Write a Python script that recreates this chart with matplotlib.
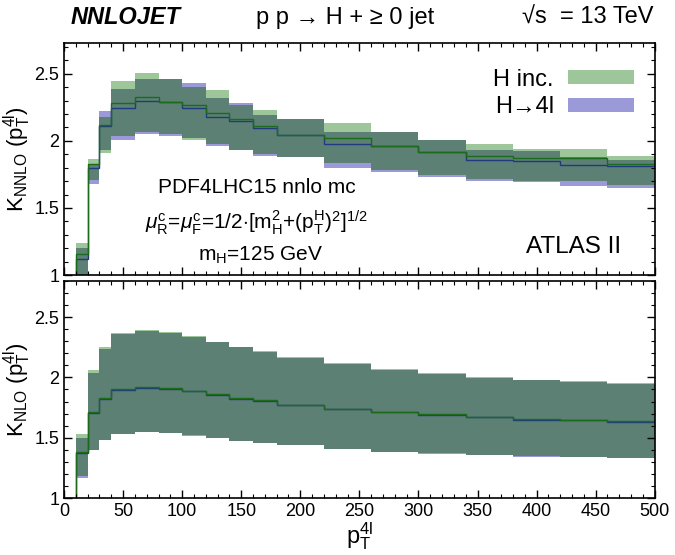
import numpy as np
import matplotlib
matplotlib.use("Agg")
import matplotlib.pyplot as plt
from matplotlib.patches import Patch

plt.rcParams['font.family'] = ['Liberation Sans', 'DejaVu Sans']
plt.rcParams['mathtext.fontset'] = 'custom'
plt.rcParams['mathtext.rm'] = 'Liberation Sans'
plt.rcParams['mathtext.it'] = 'Liberation Sans:italic'
plt.rcParams['mathtext.bf'] = 'Liberation Sans:bold'

# bin edges in pT(4l)
edges = [0, 10, 20, 30, 40, 60, 80, 100, 120, 140, 160, 180, 220, 260, 300, 340, 380, 420, 460, 500]

# NNLO K-factor, H inclusive
nnlo_inc_c = [0.60, 1.16, 1.83, 2.12, 2.285, 2.33, 2.29, 2.27, 2.205, 2.16, 2.11, 2.045, 2.02, 1.965, 1.92, 1.89, 1.87, 1.87, 1.83]
nnlo_inc_up = [0.70, 1.24, 1.865, 2.18, 2.45, 2.51, 2.46, 2.40, 2.38, 2.27, 2.23, 2.16, 2.13, 2.065, 2.01, 1.975, 1.94, 1.94, 1.89]
nnlo_inc_lo = [0.50, 0.95, 1.71, 1.91, 2.04, 2.07, 2.05, 2.01, 1.98, 1.93, 1.90, 1.88, 1.835, 1.78, 1.746, 1.716, 1.70, 1.70, 1.67]
# NNLO K-factor, H -> 4l
nnlo_4l_c = [0.58, 1.12, 1.80, 2.11, 2.245, 2.30, 2.29, 2.245, 2.18, 2.145, 2.095, 2.045, 1.98, 1.965, 1.92, 1.86, 1.85, 1.82, 1.81]
nnlo_4l_up = [0.68, 1.20, 1.83, 2.22, 2.385, 2.46, 2.46, 2.435, 2.32, 2.285, 2.19, 2.16, 2.07, 2.065, 2.01, 1.93, 1.925, 1.88, 1.86]
nnlo_4l_lo = [0.48, 0.92, 1.68, 1.93, 2.01, 2.05, 2.04, 2.02, 1.96, 1.93, 1.89, 1.88, 1.80, 1.77, 1.73, 1.70, 1.69, 1.665, 1.65]

# NLO K-factor, H inclusive
nlo_inc_c = [0.60, 1.38, 1.71, 1.83, 1.90, 1.92, 1.91, 1.89, 1.86, 1.83, 1.81, 1.775, 1.74, 1.715, 1.695, 1.675, 1.655, 1.65, 1.635]
nlo_inc_up = [0.70, 1.53, 2.06, 2.25, 2.37, 2.39, 2.375, 2.34, 2.295, 2.255, 2.22, 2.17, 2.12, 2.07, 2.035, 2.00, 1.98, 1.97, 1.95]
nlo_inc_lo = [0.50, 1.18, 1.40, 1.48, 1.53, 1.55, 1.54, 1.52, 1.50, 1.475, 1.455, 1.44, 1.41, 1.385, 1.37, 1.355, 1.345, 1.34, 1.33]
# NLO K-factor, H -> 4l
nlo_4l_c = [0.58, 1.37, 1.705, 1.825, 1.895, 1.915, 1.905, 1.885, 1.855, 1.825, 1.805, 1.77, 1.735, 1.71, 1.69, 1.67, 1.65, 1.645, 1.63]
nlo_4l_up = [0.68, 1.50, 2.04, 2.235, 2.36, 2.385, 2.37, 2.335, 2.29, 2.25, 2.215, 2.165, 2.115, 2.065, 2.03, 1.995, 1.975, 1.965, 1.945]
nlo_4l_lo = [0.48, 1.17, 1.395, 1.478, 1.528, 1.548, 1.538, 1.518, 1.498, 1.473, 1.453, 1.438, 1.408, 1.383, 1.368, 1.353, 1.343, 1.338, 1.328]

GREEN = '#9dc79b'
BLUE = '#9b99d8'
DARK = '#5c8073'
GLINE = '#1b6b1b'
BLINE = '#1f3a80'


def draw_panel(ax, g_c, g_up, g_lo, b_c, b_up, b_lo):
    g_up, g_lo, b_up, b_lo = map(np.array, (g_up, g_lo, b_up, b_lo))
    ax.stairs(g_up, edges, baseline=g_lo, fill=True, color=GREEN, lw=0)
    ax.stairs(b_up, edges, baseline=b_lo, fill=True, color=BLUE, lw=0)
    ax.stairs(np.minimum(g_up, b_up), edges, baseline=np.maximum(g_lo, b_lo),
              fill=True, color=DARK, lw=0)
    ax.stairs(b_c, edges, baseline=None, color=BLINE, lw=1.0)
    ax.stairs(g_c, edges, baseline=None, color=GLINE, lw=1.0)
    ax.set_xlim(0, 500)
    ax.set_xticks(range(0, 501, 50))
    ax.set_xticks(range(0, 501, 10), minor=True)
    ax.set_yticks([1, 1.5, 2, 2.5])
    ax.set_yticklabels(['1', '1.5', '2', '2.5'])
    ax.set_yticks(np.arange(1.0, 2.81, 0.1), minor=True)
    ax.tick_params(which='both', direction='in', top=True, right=True, labelsize=13)
    ax.tick_params(which='major', length=6, width=1)
    ax.tick_params(which='minor', length=3, width=0.8)
    for s in ax.spines.values():
        s.set_linewidth(1.2)


fig = plt.figure(figsize=(6.75, 5.55), dpi=100)
ax1 = fig.add_axes([0.0948, 0.5045, 0.8752, 0.418])
ax2 = fig.add_axes([0.0948, 0.1027, 0.8752, 0.391])

draw_panel(ax1, nnlo_inc_c, nnlo_inc_up, nnlo_inc_lo, nnlo_4l_c, nnlo_4l_up, nnlo_4l_lo)
draw_panel(ax2, nlo_inc_c, nlo_inc_up, nlo_inc_lo, nlo_4l_c, nlo_4l_up, nlo_4l_lo)
ax1.set_ylim(1, 2.73)
ax2.set_ylim(1, 2.8)
ax1.tick_params(labelbottom=False)

ax1.set_ylabel(r'K$_{\mathrm{NNLO}}$ (p$_{\mathrm{T}}^{\mathrm{4l}}$)', fontsize=16, labelpad=1)
ax2.set_ylabel(r'K$_{\mathrm{NLO}}$ (p$_{\mathrm{T}}^{\mathrm{4l}}$)', fontsize=16, labelpad=1)
ax2.set_xlabel(r'p$_{\mathrm{T}}^{\mathrm{4l}}$', fontsize=17, labelpad=0)

# header
fig.text(0.104, 0.968, 'NNLOJET', fontsize=17, fontweight='bold', fontstyle='italic',
         ha='left', va='center')
fig.text(0.512, 0.968, u'p p \u2192 H + \u2265 0 jet', fontsize=17, ha='center', va='center')
fig.text(0.968, 0.968, u'\u221As  = 13 TeV', fontsize=17, ha='right', va='center')

# annotations
ax1.text(163, 1.65, 'PDF4LHC15 nnlo mc', fontsize=15, ha='center', va='center')
ax1.text(163, 1.39, r'$\mu_{\mathrm{R}}^{\mathrm{c}}$=$\mu_{\mathrm{F}}^{\mathrm{c}}$=1/2$\cdot$[m$_{\mathrm{H}}^{2}$+(p$_{\mathrm{T}}^{\mathrm{H}}$)$^{2}$]$^{1/2}$',
         fontsize=15, ha='center', va='center')
ax1.text(166, 1.15, r'm$_{\mathrm{H}}$=125 GeV', fontsize=15, ha='center', va='center')
ax1.text(431, 1.21, 'ATLAS II', fontsize=17.5, ha='center', va='center')

handles = [Patch(facecolor=GREEN, edgecolor='none', label='H inc.'),
           Patch(facecolor=BLUE, edgecolor='none', label=u'H\u21924l')]
ax1.legend(handles=handles, loc='upper right', bbox_to_anchor=(0.965, 0.89),
           frameon=False, markerfirst=False, fontsize=17, handlelength=2.8,
           handleheight=0.55, labelspacing=0.25, borderpad=0, borderaxespad=0,
           handletextpad=0.6)

fig.savefig('out.png', dpi=100)
